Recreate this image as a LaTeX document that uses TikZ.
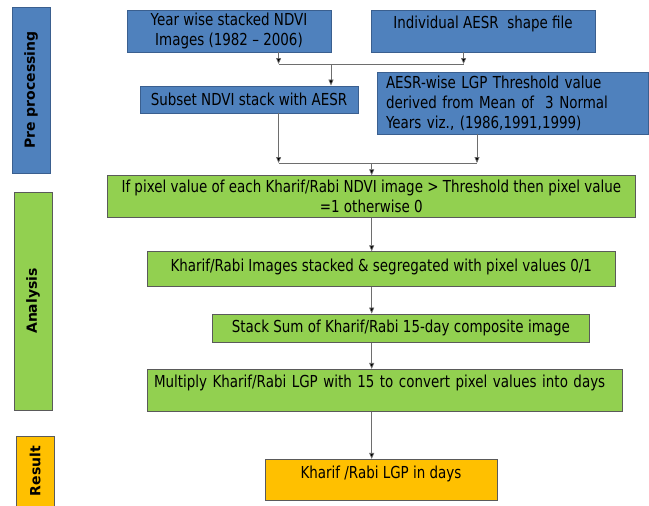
\documentclass[tikz,border=0pt]{standalone}
\usepackage{fontspec}
\setmainfont{DejaVu Sans}[FakeStretch=0.815]
\newfontfamily\barfont{DejaVu Sans}
\usetikzlibrary{arrows.meta}
\definecolor{bfill}{HTML}{4F81BD}
\definecolor{bdraw}{HTML}{3A5F8F}
\definecolor{gfill}{HTML}{92D050}
\definecolor{ofill}{HTML}{FFC000}
\definecolor{edge}{HTML}{5A5A5A}
\definecolor{lnc}{HTML}{6E6E6E}
\begin{document}
\begin{tikzpicture}[x=1pt,y=-1pt,
  box/.style={draw, line width=0.8pt, inner sep=0pt, align=center,
    font=\fontsize{16.5}{20}\selectfont},
  bluebox/.style={box, fill=bfill, draw=bdraw},
  greenbox/.style={box, fill=gfill, draw=edge},
  orangebox/.style={box, fill=ofill, draw=edge},
  bar/.style={draw, line width=0.8pt, rotate=90, inner sep=0pt,
    font=\barfont\bfseries\fontsize{14}{16}\selectfont},
  ln/.style={draw=lnc, line width=0.7pt},
  arr/.style={ln, -{Triangle[length=6pt,width=5pt,fill=black]}}
]
\useasboundingbox (0,0) rectangle (649,506);

% phase bars
\node[bar, fill=bfill, draw=bdraw, minimum width=166pt, minimum height=38pt] (pre) at (31,90) {Pre processing};
\node[bar, fill=gfill, draw=edge, minimum width=218pt, minimum height=38pt] (ana) at (33,301) {Analysis};
\node[bar, fill=ofill, draw=edge, minimum width=70pt, minimum height=37.5pt] (res) at (35.25,471) {Result};

% preprocessing boxes
\node[bluebox, minimum width=204pt, minimum height=42pt] (b1) at (229,31) {Year wise stacked NDVI\\Images (1982 -- 2006)};
\node[bluebox, minimum width=224pt, minimum height=42pt, text height=12pt, text depth=17pt] (b2) at (483,31) {Individual AESR~~shape file};
\node[bluebox, minimum width=218pt, minimum height=27pt] (b3) at (249,99.5) {Subset NDVI stack with AESR};
\node[bluebox, minimum width=270.5pt, minimum height=62pt, text width=253.5pt, align=left] (b4) at (512.75,103) {AESR-wise LGP Threshold value\\derived from Mean of~~3 Normal\\Years viz., (1986,1991,1999)};

% analysis boxes
\node[greenbox, minimum width=527.4pt, minimum height=41.6pt] (g1) at (371.3,196.5) {If pixel value of each Kharif/Rabi NDVI image > Threshold then pixel value\\=1 otherwise 0};
\node[greenbox, minimum width=468.5pt, minimum height=35pt, text height=12pt, text depth=8pt] (g2) at (381.25,269.2) {Kharif/Rabi Images stacked \& segregated with pixel values 0/1};
\node[greenbox, minimum width=376.3pt, minimum height=28.3pt] (g3) at (400.85,328.15) {Stack Sum of Kharif/Rabi 15-day composite image};
\node[greenbox, minimum width=475pt, minimum height=42pt, text width=461pt, align=left, text height=12pt, text depth=17.6pt] (g4) at (384.5,390.3) {Multiply Kharif/Rabi LGP with 15 to convert pixel values into days};

% result box
\node[orangebox, minimum width=232pt, minimum height=41.4pt, text height=12pt, text depth=15pt] (r) at (381,480) {Kharif /Rabi LGP in days};

% connectors: first junction
\coordinate (ja) at (278.6,64);
\coordinate (jb) at (463.6,64);
\coordinate (jc) at (331,64);
\draw[arr] (b1.south -| ja) -- (ja);
\draw[arr] (b2.south -| jb) -- (jb);
\draw[ln] (ja) -- (jb);
\draw[arr] (jc) -- (b3.north -| jc);

% second junction
\coordinate (kd) at (278.6,163);
\coordinate (ke) at (477,163);
\coordinate (kf) at (371.7,163);
\draw[arr] (b3.south -| kd) -- (kd);
\draw[arr] (b4.south -| ke) -- (ke);
\draw[ln] (kd) -- (ke);
\draw[arr] (kf) -- (g1.north -| kf);

% main column
\coordinate (mx) at (371.7,0);
\draw[arr] (g1.south -| mx) -- (g2.north -| mx);
\draw[arr] (g2.south -| mx) -- (g3.north -| mx);
\draw[arr] (g3.south -| mx) -- (g4.north -| mx);
\draw[arr] (g4.south -| mx) -- (r.north -| mx);
\end{tikzpicture}
\end{document}
